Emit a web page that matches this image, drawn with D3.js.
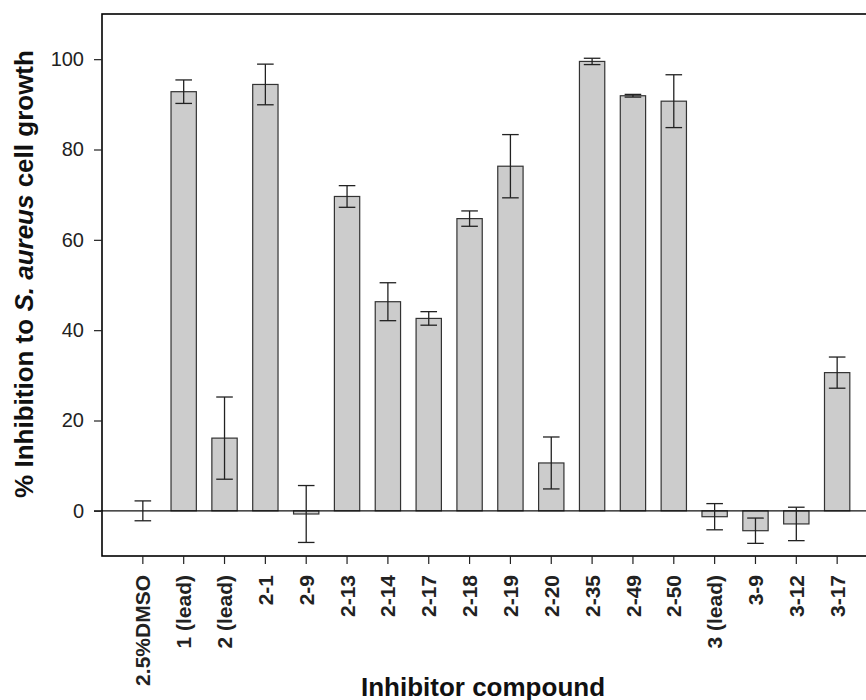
<!DOCTYPE html>
<html>
<head>
<meta charset="utf-8">
<script src="https://cdn.jsdelivr.net/npm/d3@7"></script>
<style>
  body { margin: 0; background: #fff; }
  svg { display: block; font-family: "Liberation Sans", Arial, sans-serif; }
</style>
</head>
<body>
<script>
var width = 866;
var height = 700;

// compounds along the x axis
var categories = ['2.5%DMSO', '1 (lead)', '2 (lead)', '2-1', '2-9', '2-13', '2-14', '2-17', '2-18',
  '2-19', '2-20', '2-35', '2-49', '2-50', '3 (lead)', '3-9', '3-12', '3-17'];
// mean % inhibition
var means = [0, 92.8, 16.1, 94.4, -0.7, 69.6, 46.3, 42.6, 64.7,
  76.3, 10.6, 99.5, 91.9, 90.7, -1.3, -4.4, -2.9, 30.6];
// error bar half length
var errors = [2.2, 2.6, 9.1, 4.5, 6.3, 2.4, 4.2, 1.5, 1.7,
  7.0, 5.75, 0.7, 0.3, 5.85, 2.9, 2.8, 3.7, 3.45];
var yTicks = [0, 20, 40, 60, 80, 100];

// plot box (right side runs past the picture edge)
var pLeft = 102, pTop = 14, pBottom = 556, pRight = 878;

var x = d3.scaleBand()
  .domain(categories)
  .range([pLeft, pRight])
  .paddingInner(0.38)
  .paddingOuter(0.69);

var y = d3.scaleLinear()
  .domain([-10, 110])
  .range([pBottom, pTop]);

var svg = d3.select('body')
  .append('svg')
  .attr('width', width)
  .attr('height', height);

// bars
svg.selectAll('rect.bar')
  .data(categories)
  .enter()
  .append('rect')
  .attr('class', 'bar')
  .attr('x', function(d) { return x(d); })
  .attr('y', function(d, i) { return Math.min(y(means[i]), y(0)); })
  .attr('width', x.bandwidth())
  .attr('height', function(d, i) { return Math.abs(y(means[i]) - y(0)); })
  .attr('fill', '#cccccc')
  .attr('stroke', function(d, i) { return means[i] === 0 ? 'none' : '#333'; })
  .attr('stroke-width', 1.2);

// zero line
svg.append('line')
  .attr('x1', pLeft - 8).attr('x2', pRight)
  .attr('y1', y(0)).attr('y2', y(0))
  .attr('stroke', '#111')
  .attr('stroke-width', 1.3);

// error bars
var cap = 8.3;
var err = svg.selectAll('g.err')
  .data(categories)
  .enter()
  .append('g')
  .attr('class', 'err')
  .attr('stroke', '#222')
  .attr('stroke-width', 1.3);
err.append('line')
  .attr('x1', function(d) { return x(d) + x.bandwidth() / 2; })
  .attr('x2', function(d) { return x(d) + x.bandwidth() / 2; })
  .attr('y1', function(d, i) { return y(means[i] + errors[i]); })
  .attr('y2', function(d, i) { return y(means[i] - errors[i]); });
err.append('line')
  .attr('x1', function(d) { return x(d) + x.bandwidth() / 2 - cap; })
  .attr('x2', function(d) { return x(d) + x.bandwidth() / 2 + cap; })
  .attr('y1', function(d, i) { return y(means[i] + errors[i]); })
  .attr('y2', function(d, i) { return y(means[i] + errors[i]); });
err.append('line')
  .attr('x1', function(d) { return x(d) + x.bandwidth() / 2 - cap; })
  .attr('x2', function(d) { return x(d) + x.bandwidth() / 2 + cap; })
  .attr('y1', function(d, i) { return y(means[i] - errors[i]); })
  .attr('y2', function(d, i) { return y(means[i] - errors[i]); });

// frame
svg.append('rect')
  .attr('x', pLeft).attr('y', pTop)
  .attr('width', pRight - pLeft).attr('height', pBottom - pTop)
  .attr('fill', 'none')
  .attr('stroke', '#000')
  .attr('stroke-width', 1.6);

// y axis
var yAxis = svg.append('g')
  .attr('transform', 'translate(' + pLeft + ',0)')
  .call(d3.axisLeft(y).tickValues(yTicks).tickSize(8).tickPadding(10));
yAxis.select('.domain').remove();
yAxis.selectAll('line').attr('stroke', '#222').attr('stroke-width', 1.2);
yAxis.selectAll('text')
  .attr('fill', '#222')
  .style('font-size', '20px')
  .style('font-family', '"Liberation Sans", Arial, sans-serif');

// x axis
var xAxis = svg.append('g')
  .attr('transform', 'translate(0,' + pBottom + ')')
  .call(d3.axisBottom(x).tickSize(8));
xAxis.select('.domain').remove();
xAxis.selectAll('line').attr('stroke', '#222').attr('stroke-width', 1.2);
xAxis.selectAll('text')
  .attr('transform', 'rotate(-90)')
  .attr('text-anchor', 'end')
  .attr('x', -19)
  .attr('y', 0)
  .attr('dy', '0.36em')
  .attr('fill', '#222')
  .style('font-size', '21px')
  .style('font-weight', 'bold')
  .style('font-family', '"Liberation Sans", Arial, sans-serif');

// axis titles
var yTitle = svg.append('text')
  .attr('transform', 'translate(33,274) rotate(-90)')
  .attr('text-anchor', 'middle')
  .attr('fill', '#111')
  .style('font-size', '26px')
  .style('font-weight', 'bold');
yTitle.append('tspan').text('% Inhibition to ');
yTitle.append('tspan').style('font-style', 'italic').text('S. aureus');
yTitle.append('tspan').text(' cell growth');

svg.append('text')
  .attr('x', 483)
  .attr('y', 696)
  .attr('text-anchor', 'middle')
  .attr('fill', '#111')
  .style('font-size', '26px')
  .style('font-weight', 'bold')
  .text('Inhibitor compound');
</script>
</body>
</html>
